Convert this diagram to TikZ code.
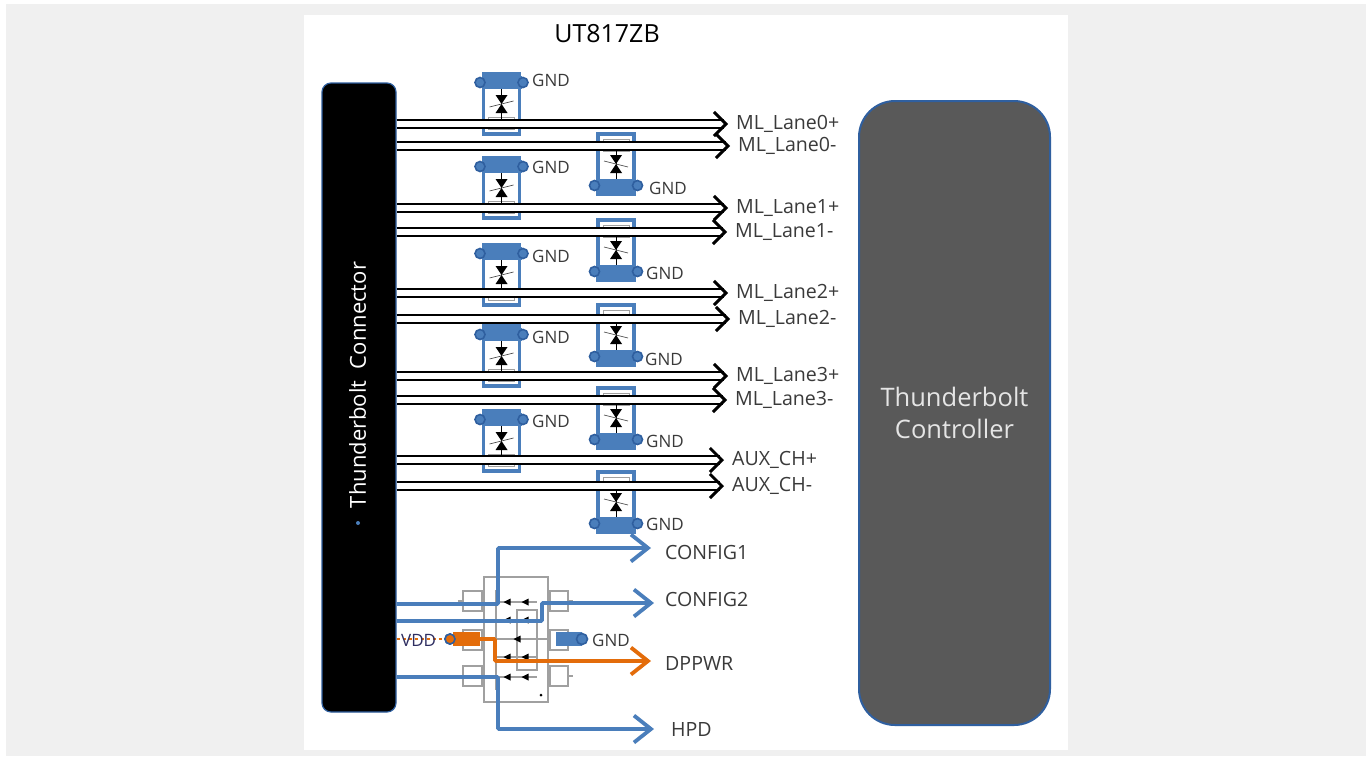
\documentclass[tikz,border=0pt]{standalone}
\usepackage{fontspec}
\setmainfont{Open Sans}
\usetikzlibrary{arrows.meta}
\definecolor{pagegray}{HTML}{F0F0F0}
\definecolor{tvsblue}{HTML}{4A7EBB}
\definecolor{padblue}{HTML}{2F5F9F}
\definecolor{dpporange}{HTML}{E36C0A}
\definecolor{ctrlgray}{HTML}{595959}
\definecolor{labelgray}{HTML}{3A3A3A}
\definecolor{chipgray}{HTML}{A0A0A0}
\tikzset{lanelabel/.style={font=\fontsize{19.6}{19.6}\selectfont, text=labelgray, anchor=west, inner sep=0pt},
	gndlabel/.style={font=\fontsize{17}{17}\selectfont, text=labelgray, anchor=west, inner sep=0pt},
	lanearrow/.style={draw=black, double=white, line width=2.4pt, double distance=5.4pt,
		-{Straight Barb[length=12pt,width=24pt,line width=3pt]}},
	bluearrow/.style={draw=tvsblue, line width=3.8pt, rounded corners=1pt,
		-{Straight Barb[length=17pt,width=27pt,line width=3.8pt]}},
	orangearrow/.style={bluearrow, draw=dpporange},
	chipline/.style={draw=chipgray, line width=1.1pt},
	padnode/.style={circle, draw=padblue, line width=1.6pt, inner sep=0pt, minimum size=10pt},
	tvs/.pic={
		\draw[tvsblue, line width=3.4pt] (-18,-30) rectangle (18,30);
		\draw[chipgray, fill=white, line width=0.9pt] (-13,13) rectangle (13,25);
		\draw[black, line width=0.6pt] (0,-21) -- (0,20);
		\fill[black] (-6,-9) -- (6,-9) -- (-6,9) -- (6,9) -- cycle;
		\draw[black!70, line width=0.7pt] (-12,3) -- (12,-3);
		\fill[tvsblue] (-20,-28) rectangle (20,-15);
		\draw[padblue, fill=tvsblue, line width=1.6pt] (-21.5,-21.5) circle (5);
		\draw[padblue, fill=tvsblue, line width=1.6pt] (21.5,-21.5) circle (5);
	},
	smalldiode/.pic={\fill[black] (3.5,-3.5) -- (3.5,3.5) -- (-3.5,0) -- cycle;}
}
\begin{document}
\begin{tikzpicture}[x=1pt,y=-1pt]
	\useasboundingbox (0,0) rectangle (1370,756);
	\fill[white] (0,0) rectangle (1370,756);
	\fill[pagegray] (6,4) rectangle (1366,756);
	\fill[white] (304,15) rectangle (1068,750);
	\node[font=\fontsize{25}{25}\selectfont, text=black] (title) at (607,34) {UT817ZB};
	% connector and controller
	\node[draw=padblue, fill=black, line width=1.2pt, rounded corners=9pt, minimum width=74pt,
		minimum height=629pt] (conn) at (359,397.5) {};
	\node[rotate=90, text=white, font=\fontsize{22}{22}\selectfont] (connlabel) at (357.5,385) {Thunderbolt\ \ Connector};
	\fill[tvsblue] (358,523) circle (2);
	\node[draw=padblue, fill=ctrlgray, line width=2pt, rounded corners=36pt, minimum width=191pt,
		minimum height=624pt, text=white!90!black, align=center, font=\fontsize{25.5}{32}\selectfont] (ctrl) at (954.5,413) {Thunderbolt\\Controller};
	% esd cells
	\foreach \cy in {104,188,275,356,441}
		\pic at (501.5,\cy) {tvs};
	\foreach \cy in {164,250,335,418,502}
		\pic[yscale=-1] at (616,\cy) {tvs};
	% lane labels
	\node[lanelabel] (lane0p) at (736,124) {ML\_Lane0+};
	\node[lanelabel] (lane0n) at (738,146) {ML\_Lane0-};
	\node[lanelabel] (lane1p) at (736,208) {ML\_Lane1+};
	\node[lanelabel] (lane1n) at (735,232) {ML\_Lane1-};
	\node[lanelabel] (lane2p) at (736,293) {ML\_Lane2+};
	\node[lanelabel] (lane2n) at (738,319) {ML\_Lane2-};
	\node[lanelabel] (lane3p) at (736,376) {ML\_Lane3+};
	\node[lanelabel] (lane3n) at (735,400) {ML\_Lane3-};
	\node[lanelabel] (auxp) at (732,460) {AUX\_CH+};
	\node[lanelabel] (auxn) at (732,486) {AUX\_CH-};
	\foreach \lane in {lane0p,lane0n,lane1p,lane1n,lane2p,lane2n,lane3p,lane3n,auxp,auxn}
		\draw[lanearrow] (conn.east |- \lane.west) -- ([xshift=-8pt]\lane.west);
	% gnd labels
	\node[gndlabel] (gnd0) at (532,80) {GND};
	\node[gndlabel] (gnd1) at (532,167) {GND};
	\node[gndlabel] (gnd2) at (532,256) {GND};
	\node[gndlabel] (gnd3) at (532,337) {GND};
	\node[gndlabel] (gnd4) at (532,421) {GND};
	\node[gndlabel] (gnd5) at (649,188) {GND};
	\node[gndlabel] (gnd6) at (646,273) {GND};
	\node[gndlabel] (gnd7) at (645,359) {GND};
	\node[gndlabel] (gnd8) at (646,441) {GND};
	\node[gndlabel] (gnd9) at (646,524) {GND};
	% switch chip
	\draw[chipline] (484,577) rectangle (548,702);
	\draw[chipline] (496,590) -- (496,690);
	\draw[chipline] (517,610) rectangle (537,670);
	\foreach \by in {591,630,666} {
		\draw[chipline] (463,\by) rectangle (482,\by+20);
		\draw[chipline] (550,\by) rectangle (568,\by+20);
		\draw[chipline] (458,\by+10) -- (463,\by+10);
		\draw[chipline] (482,\by+4) -- (484,\by+4);
		\draw[chipline] (482,\by+16) -- (484,\by+16);
		\draw[chipline] (548,\by+4) -- (550,\by+4);
		\draw[chipline] (548,\by+16) -- (550,\by+16);
		\draw[chipline] (568,\by+10) -- (573,\by+10);
	}
	\draw[chipline] (484,639) -- (548,639);
	\foreach \ly in {602,620,657,677}
		\draw[chipline] (496,\ly) -- (537,\ly);
	\foreach \dx/\dy in {507/602,525/602,507/620,525/620,517/639,507/657,525/657,507/677,525/677}
		\pic at (\dx,\dy) {smalldiode};
	\fill[black] (541,695) circle (1.5);
	% control signals
	\node[lanelabel] (cfg1) at (665,552) {CONFIG1};
	\node[lanelabel] (cfg2) at (665,599.5) {CONFIG2};
	\node[lanelabel] (dppwr) at (665,663) {DPPWR};
	\node[lanelabel] (hpd) at (671,729) {HPD};
	\coordinate (cfg1in) at (conn.east |- 0,604);
	\coordinate (cfg2in) at (conn.east |- 0,621);
	\coordinate (hpdin) at (conn.east |- 0,677);
	\draw[bluearrow] (cfg1in) -- (498,604) -- (498,548) -- (651,548);
	\draw[bluearrow] (cfg2in) -- (542,621) -- (542,603) -- (654,603);
	\draw[bluearrow] (hpdin) -- (498,677) -- (498,729) -- (654,729);
	% vdd and gnd pads
	\node[padnode, fill=dpporange] (vddpad) at (450,639) {};
	\coordinate (vddin) at (conn.east |- vddpad.west);
	\draw[dpporange, line width=2.6pt, dashed] (vddin) -- (vddpad.west);
	\node[gndlabel, text=labelgray!80!blue] (vdd) at (401,640) {VDD};
	\draw[orangearrow] (vddpad.east) -- (495,639) -- (495,661) -- (651,661);
	\fill[dpporange] (453,632) rectangle (480,646);
	\node[padnode, fill=dpporange] at (vddpad) {};
	\fill[tvsblue] (556,632) rectangle (582,646);
	\node[padnode, fill=tvsblue, minimum size=11pt] (gndpad) at (582,639) {};
	\node[gndlabel] (gndsw) at (592,640) {GND};
\end{tikzpicture}
\end{document}
